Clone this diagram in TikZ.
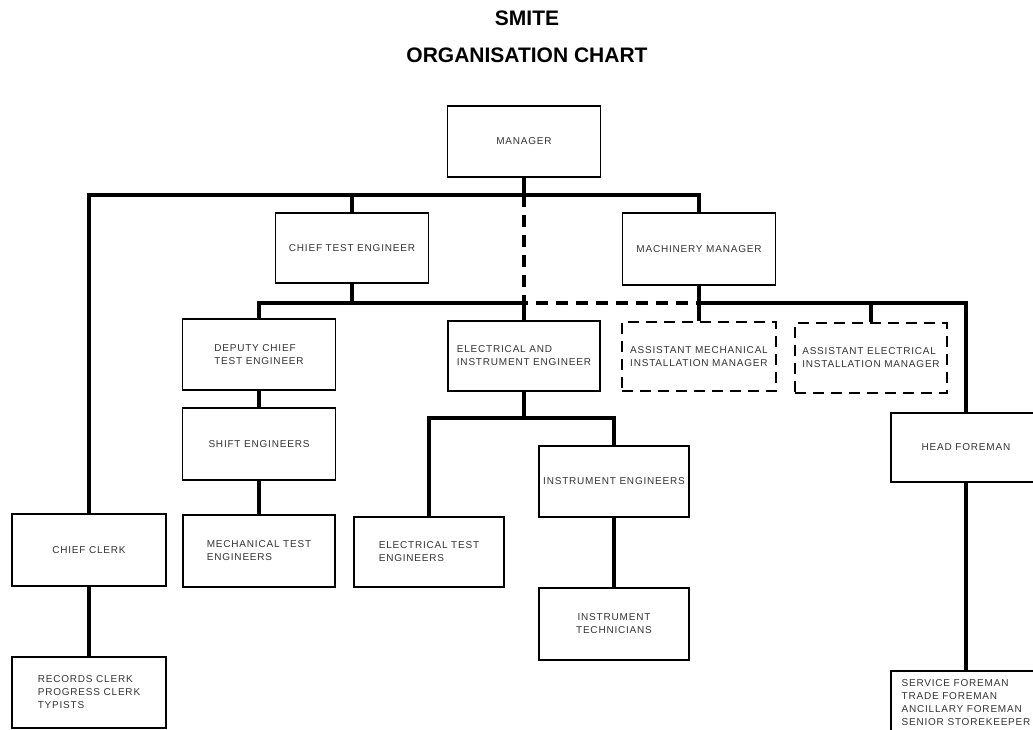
\documentclass[tikz,border=0pt]{standalone}
\usepackage{fontspec}
\setmainfont{Liberation Sans}
\newfontfamily\boxfont[LetterSpace=8]{Liberation Sans}

\begin{document}
\begin{tikzpicture}[x=1pt,y=-1pt,
    post/.style={draw,line width=1.2pt,inner sep=0pt,align=left,
      minimum width=153pt,minimum height=71pt,
      font=\boxfont\fontsize{10}{13}\selectfont,text=black!80},
    postdash/.style={post,dash pattern=on 11pt off 7pt},
    heading/.style={font=\bfseries\fontsize{21}{24}\selectfont},
    link/.style={line width=3.5pt},
    linkdash/.style={line width=3.5pt,dash pattern=on 12pt off 8pt}]
    \useasboundingbox (0,0) rectangle (1033,730);
    \clip (0,0) rectangle (1033,730);
    % titles
    \node[heading] (title) at (527,18) {SMITE};
    \node[heading] (subtitle) at (527,55) {ORGANISATION CHART};
    % bus levels
    \coordinate (top) at (0,195);
    \coordinate (mid) at (0,303);
    \coordinate (low) at (0,418);
    % posts
    \node[post] (mgr) at (524,141.5) {MANAGER};
    \node[post,minimum height=70pt] (cte) at (352,248) {CHIEF TEST ENGINEER};
    \node[post,minimum height=72pt] (mm) at (699,249) {MACHINERY MANAGER};
    \node[post] (dcte) at (259,354.5) {DEPUTY CHIEF\\TEST ENGINEER};
    \node[post,minimum width=152pt,minimum height=70pt] (eie) at (524,356) {ELECTRICAL AND\\INSTRUMENT ENGINEER};
    \node[postdash,minimum width=154pt,minimum height=69pt] (amim) at (699,356.5) {ASSISTANT MECHANICAL\\INSTALLATION MANAGER};
    \node[postdash,minimum width=152pt,minimum height=70pt] (aeim) at (871,358) {ASSISTANT ELECTRICAL\\INSTALLATION MANAGER};
    \node[post,minimum height=72pt] (shift) at (259,444) {SHIFT ENGINEERS};
    \node[post,minimum width=152pt,minimum height=72pt] (mte) at (259,551) {MECHANICAL TEST\\ENGINEERS};
    \node[post,minimum width=154pt,minimum height=72pt] (cc) at (89,550) {CHIEF CLERK};
    \node[post,minimum width=154pt] (rc) at (89,692.5) {RECORDS CLERK\\PROGRESS CLERK\\TYPISTS};
    \node[post,minimum width=150pt,minimum height=70pt] (ete) at (429,552) {ELECTRICAL TEST\\ENGINEERS};
    \node[post,minimum width=150pt] (ie) at (614,481.5) {INSTRUMENT ENGINEERS};
    \node[post,minimum width=150pt,minimum height=72pt,align=center] (it) at (614,624) {INSTRUMENT\\TECHNICIANS};
    \node[post,minimum width=150pt,minimum height=69pt] (hf) at (966,447.5) {HEAD FOREMAN};
    \node[post,minimum width=150pt,minimum height=64pt] (sf) at (966,703) {SERVICE FOREMAN\\TRADE FOREMAN\\ANCILLARY FOREMAN\\SENIOR STOREKEEPER};
    % lines of command
    \draw[link] (mgr.south) -- (mgr.south |- top);
    \draw[link] (cc.north) |- (mm.north |- top) -- (mm.north);
    \draw[link] (cte.north) -- (cte.north |- top);
    \draw[linkdash] (mgr.south |- top) -- (eie.north |- mid) -- (mm.south |- mid);
    \draw[link] (cte.south) -- (cte.south |- mid);
    \draw[link] (dcte.north) |- (eie.north |- mid) -- (eie.north);
    \draw[link] (mm.south) -- (amim.north);
    \draw[link] (mm.south |- mid) -| (hf.north);
    \draw[link] (aeim.north) -- (aeim.north |- mid);
    \draw[link] (dcte.south) -- (shift.north);
    \draw[link] (shift.south) -- (mte.north);
    \draw[link] (eie.south) -- (eie.south |- low);
    \draw[link] (ete.north) |- (ie.north |- low) -- (ie.north);
    \draw[link] (ie.south) -- (it.north);
    \draw[link] (cc.south) -- (rc.north);
    \draw[link] (hf.south) -- (sf.north);
\end{tikzpicture}
\end{document}
